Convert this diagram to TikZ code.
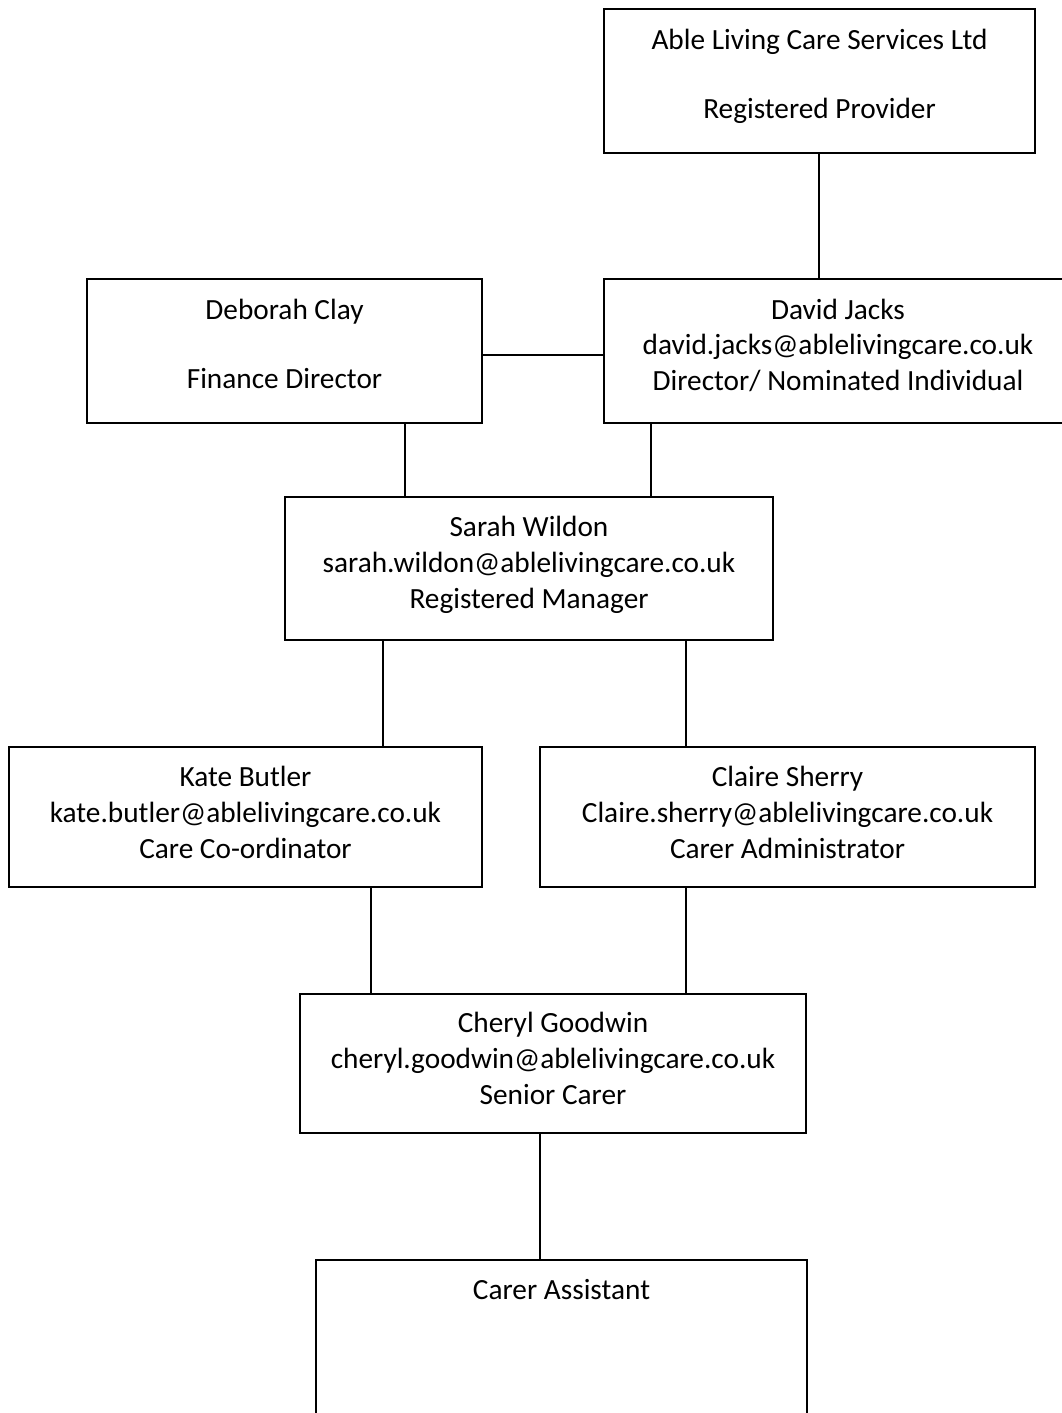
\documentclass[tikz,border=0pt]{standalone}
\usepackage{fontspec}
\setmainfont{Carlito}
\begin{document}
\begin{tikzpicture}[x=1pt,y=-1pt,
  box/.style={draw=black,line width=1.5pt,rectangle,inner sep=0pt},
  txt/.style={anchor=base,inner sep=0pt,font=\fontsize{29.3}{36}\selectfont},
  conn/.style={draw=black,line width=1.5pt}]
\useasboundingbox (0,0) rectangle (1062,1413);
\clip (0,0) rectangle (1062,1413);
% boxes
\node[box,minimum width=431pt,minimum height=144pt] (prov) at (819.5,81) {};
\node[box,minimum width=395pt,minimum height=144pt] (deb) at (284.5,351) {};
\node[box,minimum width=468pt,minimum height=144pt] (dav) at (838,351) {};
\node[box,minimum width=488pt,minimum height=143pt] (sar) at (529,568.5) {};
\node[box,minimum width=473pt,minimum height=140pt] (kat) at (245.5,817) {};
\node[box,minimum width=495pt,minimum height=140pt] (cla) at (787.5,817) {};
\node[box,minimum width=506pt,minimum height=139pt] (che) at (553,1063.5) {};
\node[box,minimum width=491pt,minimum height=180pt] (car) at (561.5,1350) {};
% texts
\node[txt] (prov1) at (819.5,49) {Able Living Care Services Ltd};
\node[txt] (prov2) at (819.5,118) {Registered Provider};
\node[txt] (deb1) at (284.5,319) {Deborah Clay};
\node[txt] (deb2) at (284.5,388) {Finance Director};
\node[txt] (dav1) at (838,319) {David Jacks};
\node[txt] (dav2) at (838,354) {david.jacks@ablelivingcare.co.uk};
\node[txt] (dav3) at (838,390) {Director/ Nominated Individual};
\node[txt] (sar1) at (529,536) {Sarah Wildon};
\node[txt] (sar2) at (529,572) {sarah.wildon@ablelivingcare.co.uk};
\node[txt] (sar3) at (529,608) {Registered Manager};
\node[txt] (kat1) at (245.5,786) {Kate Butler};
\node[txt] (kat2) at (245.5,822) {kate.butler@ablelivingcare.co.uk};
\node[txt] (kat3) at (245.5,858) {Care Co-ordinator};
\node[txt] (cla1) at (787.5,786) {Claire Sherry};
\node[txt] (cla2) at (787.5,822) {Claire.sherry@ablelivingcare.co.uk};
\node[txt] (cla3) at (787.5,858) {Carer Administrator};
\node[txt] (che1) at (553,1032) {Cheryl Goodwin};
\node[txt] (che2) at (553,1068) {cheryl.goodwin@ablelivingcare.co.uk};
\node[txt] (che3) at (553,1104) {Senior Carer};
\node[txt] (car1) at (561.5,1299) {Carer Assistant};
% connectors
\draw[conn] (prov.south -| 819,0) -- (dav.north -| 819,0);
\draw[conn] (deb.east |- 0,355) -- (dav.west |- 0,355);
\draw[conn] (deb.south -| 405,0) -- (sar.north -| 405,0);
\draw[conn] (dav.south -| 651,0) -- (sar.north -| 651,0);
\draw[conn] (sar.south -| 383,0) -- (kat.north -| 383,0);
\draw[conn] (sar.south -| 686,0) -- (cla.north -| 686,0);
\draw[conn] (kat.south -| 371,0) -- (che.north -| 371,0);
\draw[conn] (cla.south -| 686,0) -- (che.north -| 686,0);
\draw[conn] (che.south -| 540,0) -- (car.north -| 540,0);
\end{tikzpicture}
\end{document}
